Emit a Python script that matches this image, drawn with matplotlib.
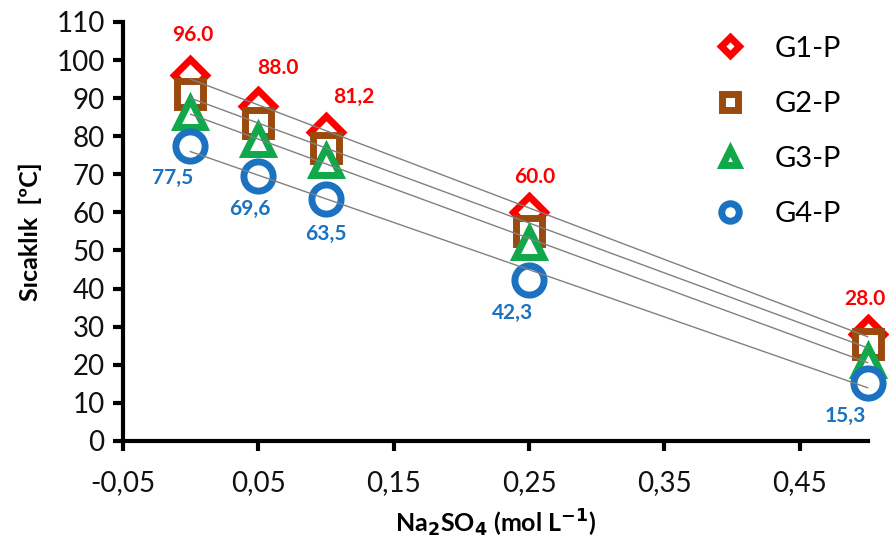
import matplotlib.pyplot as plt
import numpy as np

plt.rcParams['font.family'] = ['Lato', 'DejaVu Sans']

# data
conc = [0.0, 0.05, 0.10, 0.25, 0.50]
g1 = [96.0, 88.0, 81.2, 60.0, 28.0]
g2 = [91.0, 83.5, 77.0, 55.0, 25.5]
g3 = [86.0, 79.0, 73.5, 52.0, 21.0]
g4 = [77.5, 69.6, 63.5, 42.3, 15.3]
g1_labels = ['96.0', '88.0', '81,2', '60.0', '28.0']
g4_labels = ['77,5', '69,6', '63,5', '42,3', '15,3']
xticks = [-0.05, 0.05, 0.15, 0.25, 0.35, 0.45]
xtick_labels = ['-0,05', '0,05', '0,15', '0,25', '0,35', '0,45']
yticks = list(range(0, 111, 10))

series = [
    ('G1-P', g1, 'D', '#ff0000', 16),
    ('G2-P', g2, 's', '#9b4a0e', 19),
    ('G3-P', g3, '^', '#10a84a', 20),
    ('G4-P', g4, 'o', '#1a72c0', 21),
]

fig = plt.figure(figsize=(8.89, 5.49), dpi=100)
ax = fig.add_axes([0.138, 0.197, 0.838, 0.763])

x = np.array(conc)
for name, vals, mk, col, ms in series:
    ax.plot(x, vals, linestyle='none', marker=mk, markersize=ms,
            markerfacecolor='white', markeredgecolor=col, markeredgewidth=5,
            label=name, zorder=3, clip_on=False)

# linear trend lines
xx = np.array([conc[0], conc[-1]])
for name, vals, mk, col, ms in series:
    k, b = np.polyfit(x, vals, 1)
    ax.plot(xx, k * xx + b, color='#808080', lw=1.0, zorder=4, clip_on=False)

# data labels
g1_off = [(2, 22), (14, 20), (20, 18), (4, 18), (-2, 18)]
for xi, yi, lab, off in zip(conc, g1, g1_labels, g1_off):
    ax.annotate(lab, (xi, yi), xytext=off, textcoords='offset points',
                ha='center', va='bottom', color='#ff0000',
                fontsize=15, fontweight='bold', annotation_clip=False)
g4_off = [(-13, -16), (-6, -17), (0, -18), (-12, -17), (-16, -17)]
for xi, yi, lab, off in zip(conc, g4, g4_labels, g4_off):
    ax.annotate(lab, (xi, yi), xytext=off, textcoords='offset points',
                ha='center', va='top', color='#1a72c0',
                fontsize=15, fontweight='bold', annotation_clip=False)

ax.set_xlim(-0.05, 0.5)
ax.set_ylim(0, 110)
ax.set_xticks(xticks)
ax.set_xticklabels(xtick_labels)
ax.set_yticks(yticks)
ax.tick_params(axis='both', labelsize=20, width=3, length=7, direction='out',
               labelcolor='#111111')
ax.tick_params(axis='x', pad=14)
ax.tick_params(axis='y', pad=6)
for s in ['top', 'right']:
    ax.spines[s].set_visible(False)
for s in ['left', 'bottom']:
    ax.spines[s].set_linewidth(3)

ax.set_xlabel('Na$_\\mathbf{2}$SO$_\\mathbf{4}$ (mol L$^\\mathbf{-1}$)',
              fontsize=18, fontweight='bold', labelpad=8)
ax.set_ylabel('Sıcaklık  [ºC]', fontsize=18, fontweight='bold', labelpad=10)

leg = ax.legend(loc='upper right', bbox_to_anchor=(1.0, 1.03), frameon=False,
                fontsize=21, labelspacing=1.0, handletextpad=0.8,
                markerscale=0.6, handlelength=1.5)

fig.savefig('out.png', dpi=100)
